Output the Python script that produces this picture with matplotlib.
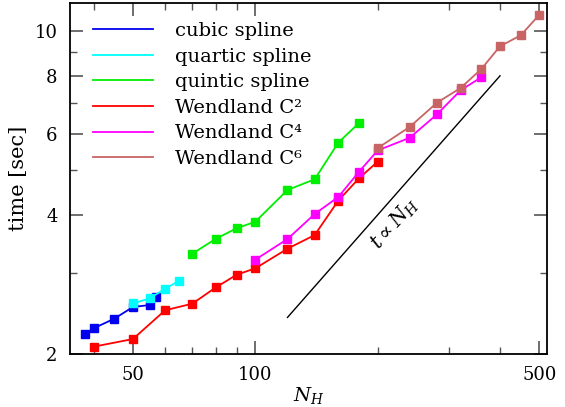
import matplotlib
matplotlib.use("Agg")
import matplotlib.pyplot as plt
from matplotlib.ticker import FixedLocator, NullFormatter, FuncFormatter

plt.rcParams['font.family'] = ['DejaVu Serif']
plt.rcParams['mathtext.fontset'] = 'dejavuserif'

# ---- data ----
cubic_x = [38, 40, 45, 50, 55, 57]
cubic_y = [2.206, 2.273, 2.385, 2.528, 2.553, 2.661]

quartic_x = [50, 55, 60, 65]
quartic_y = [2.573, 2.640, 2.769, 2.882]

quintic_x = [70, 80, 90, 100, 120, 140, 160, 180]
quintic_y = [3.297, 3.552, 3.743, 3.866, 4.529, 4.777, 5.734, 6.325]

wc2_x = [40, 50, 60, 70, 80, 90, 100, 120, 140, 160, 180, 200]
wc2_y = [2.074, 2.155, 2.487, 2.570, 2.788, 2.969, 3.065, 3.380, 3.618, 4.295, 4.802, 5.215]

wc4_x = [100, 120, 140, 160, 180, 200, 240, 280, 320, 360]
wc4_y = [3.200, 3.547, 4.018, 4.374, 4.961, 5.515, 5.877, 6.605, 7.444, 7.944]

wc6_x = [200, 240, 280, 320, 360, 400, 450, 500]
wc6_y = [5.579, 6.205, 6.999, 7.530, 8.279, 9.269, 9.791, 10.85]

series_labels = ["cubic spline", "quartic spline", "quintic spline",
                 "Wendland C²", "Wendland C⁴", "Wendland C⁶"]
series_colors = ["#0000ee", "#00ffff", "#00ee00", "#ff0000", "#ff00ff", "#c86464"]

scaling_x = [120, 400]
scaling_y = [2.4, 8.0]

x_major = [50, 100, 500]
x_minor = [40, 60, 70, 80, 90, 200, 300, 400]
y_major = [2, 4, 6, 8, 10]
y_minor = [3, 5, 7, 9]

# ---- figure ----
fig = plt.figure(figsize=(5.65, 4.07), dpi=100)
ax = fig.add_axes([70/565, 1 - 354/407, (547-70)/565, (354-3)/407])
ax.set_xscale('log')
ax.set_yscale('log')

xs = [cubic_x, quartic_x, quintic_x, wc2_x, wc4_x, wc6_x]
ys = [cubic_y, quartic_y, quintic_y, wc2_y, wc4_y, wc6_y]
for x, y, lab, c in zip(xs, ys, series_labels, series_colors):
    ax.plot(x, y, '-', color=c, lw=1.3, marker='s', ms=5.5, mec=c, mfc=c, label=lab)

ax.plot(scaling_x, scaling_y, '-', color='black', lw=1.0)
ax.text(221, 3.84, r'$t \propto N_H$', rotation=48.7, ha='center', va='center',
        fontsize=14.5, rotation_mode='anchor')

ax.set_xlim(35, 522)
ax.set_ylim(2, 11.5)

ax.xaxis.set_major_locator(FixedLocator(x_major))
ax.xaxis.set_minor_locator(FixedLocator(x_minor))
ax.yaxis.set_major_locator(FixedLocator(y_major))
ax.yaxis.set_minor_locator(FixedLocator(y_minor))
fmt = FuncFormatter(lambda v, p: f"{v:g}")
ax.xaxis.set_major_formatter(fmt)
ax.yaxis.set_major_formatter(fmt)
ax.xaxis.set_minor_formatter(NullFormatter())
ax.yaxis.set_minor_formatter(NullFormatter())

ax.tick_params(which='both', direction='in', top=True, right=True, color='#555555')
ax.tick_params(which='major', length=9.5, width=1.2, labelsize=13, pad=9)
ax.tick_params(which='minor', length=5, width=1.0)
for s in ax.spines.values():
    s.set_linewidth(1.3)

ax.set_xlabel(r'$N_H$', fontsize=14, labelpad=0)
ax.set_ylabel('time [sec]', fontsize=15, labelpad=5)

leg = ax.legend(loc='upper left', bbox_to_anchor=(23/477, 1 - 19/351), frameon=False,
                fontsize=14, handlelength=3.1, handletextpad=1.13, labelspacing=0.39,
                borderpad=0, borderaxespad=0, markerscale=0)
for h in leg.get_lines():
    h.set_marker('')

fig.savefig('out.png', dpi=100)
